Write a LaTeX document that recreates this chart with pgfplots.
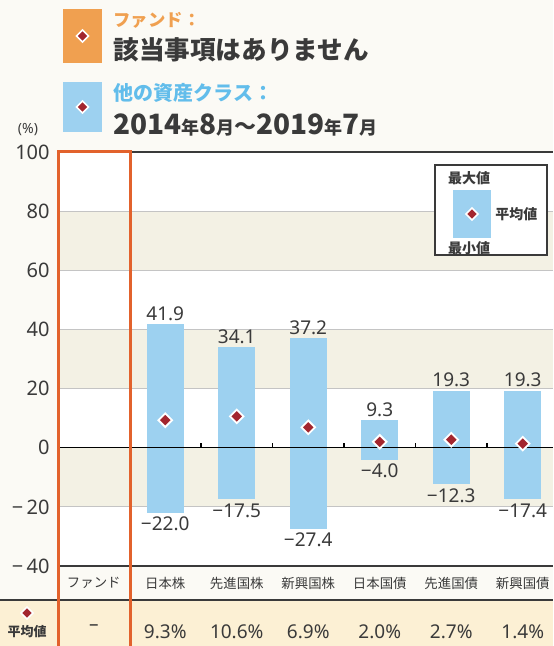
\documentclass[border=0pt]{standalone}
\usepackage{fontspec}
\setmainfont{Noto Sans}
\newfontfamily\jp{Noto Sans CJK JP}
\usepackage{pgfplots}
\usepackage{pgfplotstable}
\pgfplotsset{compat=1.18}
\definecolor{barblue}{HTML}{9DD1F0}
\definecolor{dred}{HTML}{A3262F}
\definecolor{band}{HTML}{F3F1E4}
\definecolor{cream}{HTML}{FCF0D4}
\definecolor{oframe}{HTML}{E2622C}
\definecolor{oheader}{HTML}{F0A050}
\definecolor{bheader}{HTML}{62BDEB}
\definecolor{txt}{HTML}{3A3A3A}
\definecolor{bg}{HTML}{FBFAF5}
\definecolor{gridc}{HTML}{C4C4C4}

\pgfplotstableread{
x mean min max minl maxl
1 9.3 -22.0 41.9 −22.0 41.9
2 10.6 -17.5 34.1 −17.5 34.1
3 6.9 -27.4 37.2 −27.4 37.2
4 2.0 -4.0 9.3 −4.0 9.3
5 2.7 -12.3 19.3 −12.3 19.3
6 1.4 -17.4 19.3 −17.4 19.3
}\datatable

\newcommand{\cat}[1]{{\jp\fontsize{6.7}{7}\selectfont #1}}
\newcommand{\mv}[1]{{\fontsize{9.5}{10}\selectfont #1}}
\newcommand{\sm}[1]{{\jp\bfseries\fontsize{9}{9}\selectfont #1}}

\begin{document}
\begin{tikzpicture}
\begin{scope}[x=0.5pt,y=0.5pt]
\fill[bg] (0,0) rectangle (553,646);
\fill[cream] (0,0) rectangle (553,46);
\draw[txt, line width=1pt] (0,46) -- (553,46);

% header
\fill[oheader] (63,583) rectangle (102,637);
\filldraw[fill=dred, draw=white, line width=0.8pt] (82.5,616) -- (88.5,610) -- (82.5,604) -- (76.5,610) -- cycle;
\fill[barblue] (63,514) rectangle (102,564);
\filldraw[fill=dred, draw=white, line width=0.8pt] (82.5,545) -- (88.5,539) -- (82.5,533) -- (76.5,539) -- cycle;
\node[anchor=west, inner sep=0pt, text=oheader, font=\jp\bfseries\fontsize{8.7}{9}\selectfont] at (113,626) {ファンド：};
\node[anchor=west, inner sep=0pt, text=txt, font=\jp\bfseries\fontsize{12.8}{13}\selectfont] at (113,596) {該当事項はありません};
\node[anchor=west, inner sep=0pt, text=bheader, font=\jp\bfseries\fontsize{10}{10}\selectfont] at (113,553) {他の資産クラス：};
\node[anchor=west, inner sep=0pt, text=txt, font=\jp\bfseries\fontsize{14}{14}\selectfont] at (113,521)
 {2014\sm{年}8\sm{月}{\fontsize{11}{11}\selectfont ～}2019\sm{年}7\sm{月}};
\node[text=txt, font=\fontsize{7}{7}\selectfont] at (28,516) {(\%)};
\end{scope}

\begin{axis}[
 at={(29pt,40pt)}, anchor=south west, scale only axis,
 width=247.5pt, height=207pt,
 xmin=-0.5, xmax=6.423, ymin=-40, ymax=100,
 axis line style={draw=none},
 major tick length=0pt,
 ytick={-40,-20,0,20,40,60,80,100},
 yticklabels={−\,40,−\,20,0,20,40,60,80,100},
 yticklabel style={font=\fontsize{10}{10}\selectfont, text=txt, inner sep=0pt, xshift=-4pt},
 xtick={0,1,2,3,4,5,6},
 xticklabels={\cat{ファンド},\cat{日本株},\cat{先進国株},\cat{新興国株},\cat{日本国債},\cat{先進国債},\cat{新興国債}},
 xticklabel style={text=txt, yshift=-2pt},
 extra x ticks={0,1,2,3,4,5,6},
 extra x tick labels={\mv{–},\mv{9.3\%},\mv{10.6\%},\mv{6.9\%},\mv{2.0\%},\mv{2.7\%},\mv{1.4\%}},
 extra x tick style={tick label style={text=txt, yshift=-24pt}},
 clip=false,
 axis background/.style={fill=white},
]
\fill[band] (axis cs:-0.5,60) rectangle (axis cs:6.423,80);
\fill[band] (axis cs:-0.5,20) rectangle (axis cs:6.423,40);
\fill[band] (axis cs:-0.5,-20) rectangle (axis cs:6.423,0);
\draw[gridc, line width=0.6pt] (axis cs:-0.5,80) -- (axis cs:6.423,80);
\draw[gridc, line width=0.6pt] (axis cs:-0.5,60) -- (axis cs:6.423,60);
\draw[gridc, line width=0.6pt] (axis cs:-0.5,40) -- (axis cs:6.423,40);
\draw[gridc, line width=0.6pt] (axis cs:-0.5,20) -- (axis cs:6.423,20);
\draw[gridc, line width=0.6pt] (axis cs:-0.5,-20) -- (axis cs:6.423,-20);
\draw[txt, line width=0.9pt] (axis cs:-0.5,100) -- (axis cs:6.423,100);
\draw[txt, line width=0.9pt] (axis cs:-0.5,-40) -- (axis cs:6.423,-40);

\addplot[draw=none, mark=none, error bars/.cd, y dir=both, y explicit, error mark=none,
  error bar style={draw=barblue, line width=18.5pt, line cap=butt}]
  table[x=x, y=mean, y error plus expr=\thisrow{max}-\thisrow{mean}, y error minus expr=\thisrow{mean}-\thisrow{min}] {\datatable};

\draw[black, line width=0.7pt] (axis cs:-0.5,0) -- (axis cs:6.423,0);
\pgfplotsinvokeforeach{1.5,2.5,3.5,4.5,5.5}{
  \draw[black, line width=0.6pt] (axis cs:#1,0) -- ([yshift=2.5pt]axis cs:#1,0);
}

\addplot[only marks, mark=square*, mark size=2.4pt,
  mark options={rotate=45, fill=dred, draw=white, line width=0.9pt}]
  table[x=x, y=mean] {\datatable};

\addplot[only marks, mark=none, point meta=explicit symbolic, nodes near coords,
  nodes near coords style={font=\fontsize{9.5}{10}\selectfont, text=txt, anchor=south, inner sep=1.5pt}]
  table[x=x, y=max, meta=maxl] {\datatable};
\addplot[only marks, mark=none, point meta=explicit symbolic, nodes near coords,
  nodes near coords style={font=\fontsize{9.5}{10}\selectfont, text=txt, anchor=north, inner sep=2pt}]
  table[x=x, y=min, meta=minl] {\datatable};
\end{axis}

\begin{scope}[x=0.5pt,y=0.5pt]
% fund frame
\draw[oframe, line width=1.5pt] (58,-10) -- (58,494) -- (130,494) -- (130,-10);

% legend box
\draw[txt, fill=white, line width=0.6pt] (435,391) rectangle (547,481);
\node[text=txt, font=\jp\bfseries\fontsize{7}{7}\selectfont] at (469,468) {最大値};
\fill[barblue] (453,408) rectangle (491,456);
\filldraw[fill=dred, draw=white, line width=0.8pt] (472,438) -- (478,432) -- (472,426) -- (466,432) -- cycle;
\node[anchor=west, inner sep=1pt, text=txt, font=\jp\bfseries\fontsize{7}{7}\selectfont] at (493,432) {平均値};
\node[text=txt, font=\jp\bfseries\fontsize{7}{7}\selectfont] at (469,398) {最小値};

% left mean label
\filldraw[fill=dred, draw=white, line width=0.8pt] (27,39) -- (33,33) -- (27,27) -- (21,33) -- cycle;
\node[text=txt, font=\jp\bfseries\fontsize{6.5}{7}\selectfont] at (27,14) {平均値};

\pgfresetboundingbox
\path[use as bounding box] (0,0) rectangle (553,646);
\end{scope}
\end{tikzpicture}
\end{document}
